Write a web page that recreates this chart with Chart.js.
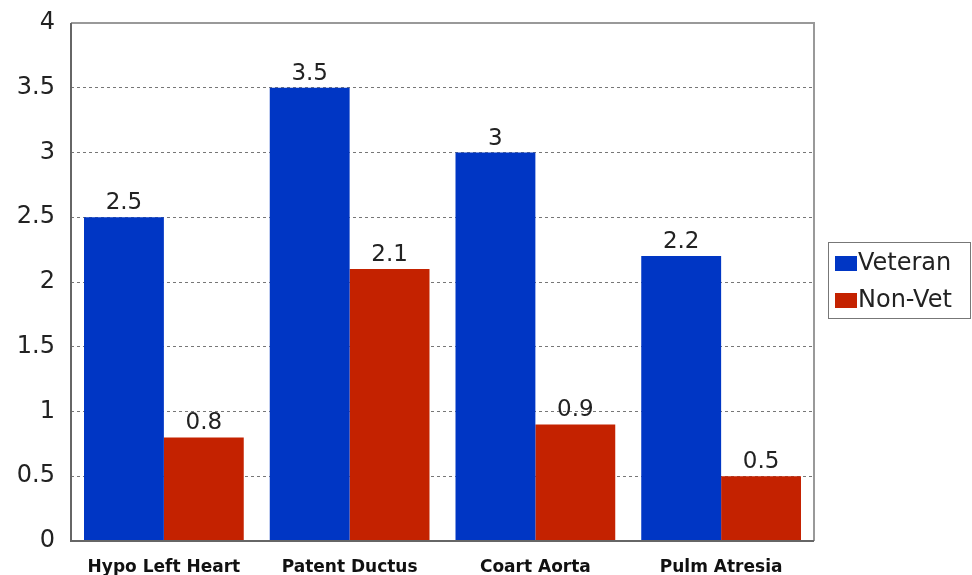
<!DOCTYPE html>
<html>
<head>
<meta charset="utf-8">
<script src="https://cdn.jsdelivr.net/npm/chart.js@4"></script>
<style>
  html, body { margin: 0; padding: 0; background: #fff; }
  #wrap { width: 972px; height: 575px; }
</style>
</head>
<body>
<div id="wrap"><canvas id="chart" width="972" height="575"></canvas></div>
<script>
const categories = ['Hypo Left Heart', 'Patent Ductus', 'Coart Aorta', 'Pulm Atresia'];
const veteranValues = [2.5, 3.5, 3, 2.2];
const nonVetValues = [0.8, 2.1, 0.9, 0.5];
const seriesNames = ['Veteran', 'Non-Vet'];
const seriesColors = ['#0036c4', '#c42200'];

// value labels over each bar
const valueLabels = {
    id: 'valueLabels',
    afterDatasetsDraw(chart) {
        const ctx = chart.ctx;
        ctx.save();
        ctx.font = '23px "DejaVu Sans", Verdana, sans-serif';
        ctx.fillStyle = '#222';
        ctx.textAlign = 'center';
        ctx.textBaseline = 'alphabetic';
        chart.data.datasets.forEach((ds, i) => {
            chart.getDatasetMeta(i).data.forEach((bar, j) => {
                ctx.fillText(String(ds.data[j]), bar.x, bar.y - 8);
            });
        });
        ctx.restore();
    }
};

// plot frame and boxed legend on the right
const frameAndLegend = {
    id: 'frameAndLegend',
    afterDraw(chart) {
        const ctx = chart.ctx;
        const a = chart.chartArea;
        ctx.save();
        ctx.strokeStyle = '#999';
        ctx.lineWidth = 2;
        ctx.beginPath();
        ctx.moveTo(a.left, a.top);
        ctx.lineTo(a.right, a.top);
        ctx.lineTo(a.right, a.bottom);
        ctx.stroke();
        ctx.strokeStyle = '#666';
        ctx.beginPath();
        ctx.moveTo(a.left, a.top);
        ctx.lineTo(a.left, a.bottom);
        ctx.lineTo(a.right, a.bottom);
        ctx.stroke();

        // legend box
        const lx = a.right + 14, ly = 242, lw = 142, lh = 76;
        ctx.lineWidth = 1;
        ctx.strokeStyle = '#777';
        ctx.strokeRect(lx + 0.5, ly + 0.5, lw, lh);
        ctx.font = '24px "DejaVu Sans", Verdana, sans-serif';
        ctx.textBaseline = 'middle';
        ctx.textAlign = 'left';
        seriesNames.forEach((name, i) => {
            const cy = ly + 21 + i * 37;
            ctx.fillStyle = seriesColors[i];
            ctx.fillRect(lx + 7, cy - 7, 22, 15);
            ctx.fillStyle = '#222';
            ctx.fillText(name, lx + 30, cy + 1);
        });
        ctx.restore();
    }
};

new Chart(document.getElementById('chart'), {
    type: 'bar',
    data: {
        labels: categories,
        datasets: [
            { label: seriesNames[0], data: veteranValues, backgroundColor: seriesColors[0], borderWidth: 0 },
            { label: seriesNames[1], data: nonVetValues, backgroundColor: seriesColors[1], borderWidth: 0 }
        ]
    },
    options: {
        responsive: false,
        animation: false,
        layout: { padding: { top: 23, right: 158, left: 0, bottom: 0 } },
        plugins: {
            legend: { display: false },
            tooltip: { enabled: false }
        },
        datasets: {
            bar: { categoryPercentage: 0.86, barPercentage: 1.0 }
        },
        scales: {
            x: {
                grid: { display: false },
                border: { display: false },
                ticks: {
                    color: '#111',
                    font: { family: '"DejaVu Sans", Verdana, sans-serif', size: 17, weight: 'bold' },
                    padding: 8,
                    maxRotation: 0
                },
                afterFit(scale) { scale.height = 34; }
            },
            y: {
                min: 0,
                max: 4,
                ticks: {
                    stepSize: 0.5,
                    color: '#222',
                    font: { family: '"DejaVu Sans", Verdana, sans-serif', size: 24 },
                    padding: 16,
                    callback: v => String(v)
                },
                grid: {
                    color: '#777',
                    lineWidth: 1,
                    drawTicks: false
                },
                border: { display: false, dash: [3, 3] },
                afterFit(scale) {
                    scale.width = 71;
                    scale.paddingTop = 0;
                    scale.paddingBottom = 0;
                }
            }
        }
    },
    plugins: [valueLabels, frameAndLegend]
});
</script>
</body>
</html>
